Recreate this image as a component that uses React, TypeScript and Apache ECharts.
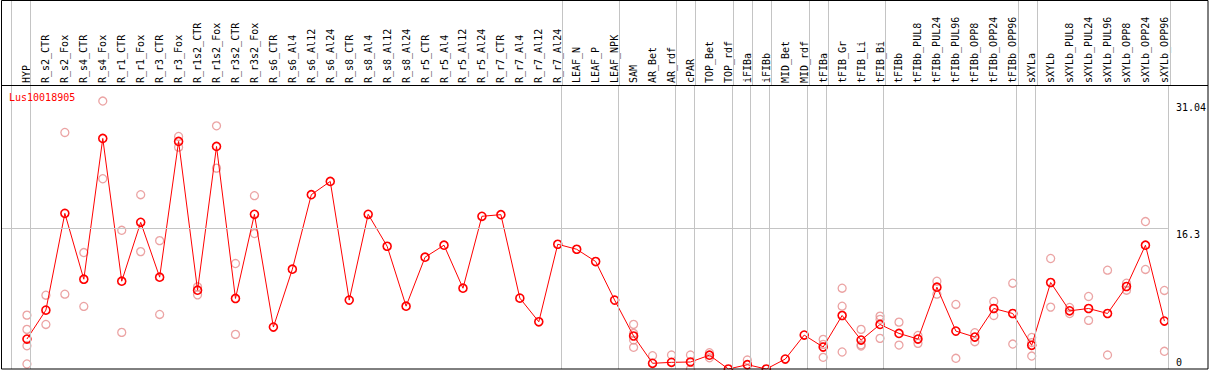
import React, { useEffect, useRef } from "react";
import * as echarts from "echarts";

const GENE = "Lus10018905";

const CATEGORIES = [
  "HYP", "R_s2_CTR", "R_s2_Fox", "R_s4_CTR", "R_s4_Fox", "R_r1_CTR", "R_r1_Fox", "R_r3_CTR", "R_r3_Fox",
  "R_r1s2_CTR", "R_r1s2_Fox", "R_r3s2_CTR", "R_r3s2_Fox", "R_s6_CTR", "R_s6_Al4", "R_s6_Al12", "R_s6_Al24",
  "R_s8_CTR", "R_s8_Al4", "R_s8_Al12", "R_s8_Al24", "R_r5_CTR", "R_r5_Al4", "R_r5_Al12", "R_r5_Al24",
  "R_r7_CTR", "R_r7_Al4", "R_r7_Al12", "R_r7_Al24", "LEAF_N", "LEAF_P", "LEAF_NPK", "SAM", "AR_Bet", "AR_rdf",
  "cPAR", "TOP_Bet", "TOP_rdf", "iFIBa", "iFIBb", "MID_Bet", "MID_rdf", "tFIBa", "tFIB_Gr", "tFIB_Li", "tFIB_Bi",
  "tFIBb", "tFIBb_PUL8", "tFIBb_PUL24", "tFIBb_PUL96", "tFIBb_OPP8", "tFIBb_OPP24", "tFIBb_OPP96",
  "sXYLa", "sXYLb", "sXYLb_PUL8", "sXYLb_PUL24", "sXYLb_PUL96", "sXYLb_OPP8", "sXYLb_OPP24", "sXYLb_OPP96",
];

const MEANS = [
  3.47, 6.82, 18.03, 10.4, 26.71, 10.17, 16.99, 10.64, 26.36, 9.13, 25.78, 8.17, 17.92, 4.86, 11.56, 20.19,
  21.73, 7.98, 17.92, 14.22, 7.28, 12.95, 14.34, 9.36, 17.69, 17.88, 8.21, 5.47, 14.45, 13.87, 12.45, 7.98,
  3.82, 0.66, 0.77, 0.81, 1.6, 0.0, 0.5, 0.0, 1.15, 3.93, 2.54, 6.2, 3.35, 5.16, 4.12, 3.47, 9.48, 4.39, 3.7,
  7.01, 6.43, 2.74, 10.02, 6.74, 7.01, 6.43, 9.56, 14.34, 5.55,
];

const REPLICATES: number[][] = [
  [6.24, 4.59, 2.69, 0.58], [8.55, 5.16], [27.4, 8.67], [13.49, 7.25], [31.04, 22.04], [16.07, 4.24],
  [20.19, 13.6], [14.87, 6.32], [26.94, 25.7], [9.52, 8.59], [28.17, 23.27], [12.22, 4.01], [20.08, 15.69],
  [], [], [], [], [], [], [], [], [], [], [], [], [], [], [], [], [], [], [],
  [5.17, 4.13, 3.35, 2.51], [1.54, -0.22], [1.62, -0.08], [1.62, 0.0], [1.89, 1.3], [], [1.04, -0.04], [], [], [],
  [3.43, 2.85, 1.35], [9.36, 7.28, 1.97], [4.59, 2.8, 2.66], [6.13, 5.75, 3.55], [5.43, 2.77], [3.89, 2.97],
  [10.17, 8.67], [7.48, 1.24], [4.2, 3.16], [7.83, 6.2], [9.94, 2.89], [3.66, 3.06, 1.5], [12.8, 7.17],
  [7.13, 6.43], [8.4, 5.63], [11.45, 1.62], [9.94, 9.13], [17.08, 11.53], [9.1, 2.05],
];

// index of the last category in each group (a separator follows it); -1 = before the first
const GROUP_ENDS = [-1, 0, 28, 31, 34, 35, 37, 38, 39, 41, 42, 45, 52, 53, 60];

const Y_TICKS_TOP = [16.3, 31.04];
const Y_TICKS_BOTTOM = [0];
const Y_TICK_LABELS: Record<string, string> = { "0": "0", "16.3": "16.3", "31.04": "31.04" };
const GRID_VALUE = 16.3;

const W = 1209;
const H = 370;
const STEP = 19;
const FIRST_X = 27;
const PLOT_LEFT = 1;
const PLOT_RIGHT = 1170.5;
const PLOT_TOP = 85;
const PLOT_BOTTOM = 369;
const X_MIN = (PLOT_LEFT - FIRST_X) / STEP;
const X_MAX = (PLOT_RIGHT - FIRST_X) / STEP;
const Y_MAX = 32.9;
const SEP_OFFSET = 3.5 / STEP;

const MONO = "'DejaVu Sans Mono', monospace";

export default function App() {
  const ref = useRef<HTMLDivElement>(null);

  useEffect(() => {
    if (!ref.current) return;
    const chart = echarts.init(ref.current, undefined, { renderer: "svg" });

    const meanData = MEANS.map((v, i) => [i, v]);
    const repData: number[][] = [];
    REPLICATES.forEach((arr, i) => arr.forEach((v) => repData.push([i, v])));
    const sepLines = GROUP_ENDS.map((e) => ({ xAxis: e + SEP_OFFSET }));
    const indices = CATEGORIES.map((_, i) => i);

    const sepLineStyle = { color: "#c4c4c4", width: 1, type: "solid" as const };

    chart.setOption({
      animation: false,
      title: {
        text: GENE,
        left: 9,
        top: 92,
        padding: 0,
        textStyle: { color: "#ff0000", fontSize: 10, fontWeight: "normal", fontFamily: MONO },
      },
      grid: [
        { left: PLOT_LEFT, top: PLOT_TOP, width: PLOT_RIGHT - PLOT_LEFT, height: PLOT_BOTTOM - PLOT_TOP },
        { left: PLOT_LEFT, top: 0, width: PLOT_RIGHT - PLOT_LEFT, height: PLOT_TOP },
      ],
      xAxis: [
        {
          type: "value",
          gridIndex: 0,
          min: X_MIN,
          max: X_MAX,
          position: "top",
          axisLine: { show: false },
          axisTick: { show: false },
          splitLine: { show: false },
          axisLabel: {
            customValues: indices,
            rotate: 90,
            margin: 2,
            padding: [0, 0, 4, 0],
            fontSize: 10,
            fontFamily: MONO,
            color: "#000",
            hideOverlap: false,
            formatter: (v: number) => CATEGORIES[Math.round(v)] ?? "",
          },
        },
        { type: "value", gridIndex: 1, min: X_MIN, max: X_MAX, show: false },
      ],
      yAxis: [
        {
          type: "value",
          gridIndex: 0,
          min: 0,
          max: Y_MAX,
          position: "right",
          axisLine: { show: false },
          axisTick: { show: false },
          splitLine: { show: false },
          axisLabel: {
            customValues: Y_TICKS_TOP,
            margin: 8,
            align: "left",
            verticalAlign: "top",
            padding: [1, 0, 0, 0],
            fontSize: 10,
            fontFamily: MONO,
            color: "#000",
            formatter: (v: number) => Y_TICK_LABELS[String(v)] ?? String(v),
          },
        },
        {
          type: "value",
          gridIndex: 0,
          min: 0,
          max: Y_MAX,
          position: "right",
          axisLine: { show: false },
          axisTick: { show: false },
          splitLine: { show: false },
          axisLabel: {
            customValues: Y_TICKS_BOTTOM,
            margin: 8,
            align: "left",
            verticalAlign: "bottom",
            padding: [0, 0, 2, 0],
            fontSize: 10,
            fontFamily: MONO,
            color: "#000",
            formatter: (v: number) => Y_TICK_LABELS[String(v)] ?? String(v),
          },
        },
        { type: "value", gridIndex: 1, min: 0, max: 1, show: false },
      ],
      series: [
        {
          type: "line",
          xAxisIndex: 0,
          yAxisIndex: 0,
          data: [],
          z: 1,
          silent: true,
          markLine: {
            silent: true,
            symbol: "none",
            label: { show: false },
            lineStyle: sepLineStyle,
            data: [...sepLines, { yAxis: GRID_VALUE }],
          },
        },
        {
          type: "line",
          xAxisIndex: 1,
          yAxisIndex: 2,
          data: [],
          z: 1,
          silent: true,
          markLine: {
            silent: true,
            symbol: "none",
            label: { show: false },
            lineStyle: sepLineStyle,
            data: sepLines,
          },
        },
        {
          type: "scatter",
          xAxisIndex: 0,
          yAxisIndex: 0,
          data: repData,
          symbol: "circle",
          symbolSize: 8,
          z: 2,
          itemStyle: { color: "rgba(0,0,0,0)", borderColor: "#e68c8c", borderWidth: 1.3 },
        },
        {
          type: "line",
          xAxisIndex: 0,
          yAxisIndex: 0,
          data: meanData,
          symbol: "circle",
          symbolSize: 8,
          z: 3,
          lineStyle: { color: "#ff0000", width: 1 },
          itemStyle: { color: "rgba(255,0,0,0)", borderColor: "#ff0000", borderWidth: 1.6 },
        },
      ],
      graphic: [
        {
          type: "rect",
          silent: true,
          shape: { x: 1.5, y: 0.5, width: 1206.5, height: 368.5 },
          style: { fill: "none", stroke: "#000", lineWidth: 1 },
          z: 10,
        },
        {
          type: "line",
          silent: true,
          shape: { x1: 1, y1: 85.5, x2: 1208, y2: 85.5 },
          style: { stroke: "#000", lineWidth: 1 },
          z: 10,
        },
      ],
    });

    return () => chart.dispose();
  }, []);

  return (
    <div
      ref={ref}
      style={{ position: "fixed", left: 0, top: 0, width: W, height: H, background: "#fff" }}
    />
  );
}
